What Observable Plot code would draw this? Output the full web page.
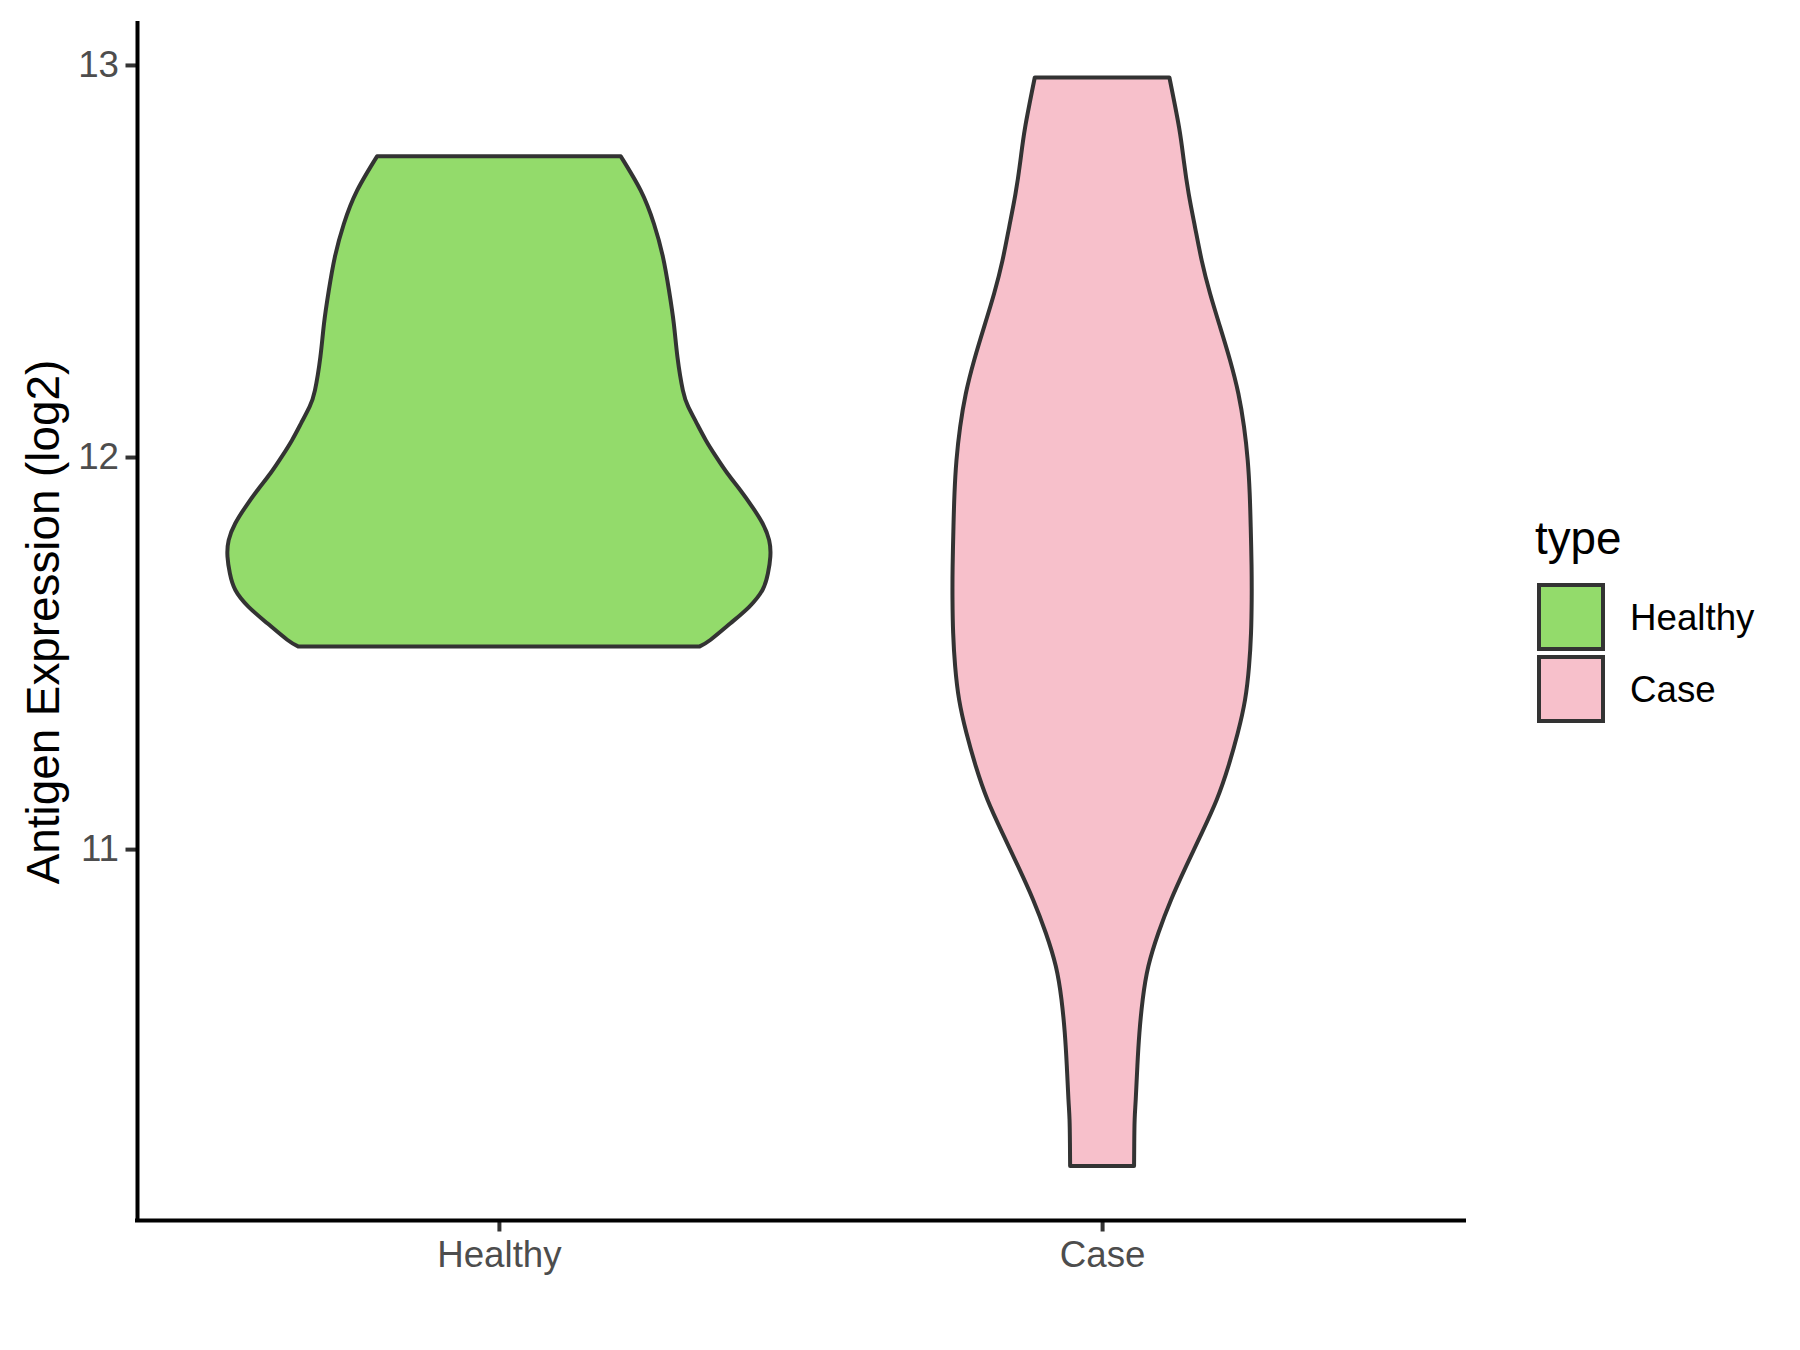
<!DOCTYPE html>
<html><head><meta charset="utf-8">
<script src="https://cdn.jsdelivr.net/npm/d3@7"></script>
<script src="https://cdn.jsdelivr.net/npm/@observablehq/plot@0.6"></script>
<style>
html,body{margin:0;padding:0;background:#fff;}
#wrap{position:relative;width:1800px;height:1350px;font-family:"Liberation Sans",Arial,sans-serif;background:#fff;}
#wrap svg{position:absolute;left:0;top:0;}
.lg{position:absolute;line-height:1;white-space:nowrap;color:#000;}
.key{position:absolute;box-sizing:border-box;border:4px solid #333333;width:68px;height:68px;}
</style></head><body>
<div id="wrap"></div>
<script>
const categories = ["Healthy", "Case"];
const fillColors = ["#93DB6B", "#F7C0CB"];
const yTicks = [11, 12, 13];
const yTitle = "Antigen Expression (log2)";
const legendTitle = "type";

// violin outlines: level (log2) and half-width (in category units)
const healthyLevels = [11.517, 11.534, 11.576, 11.618, 11.661, 11.703, 11.746, 11.788, 11.831, 11.873, 11.916, 11.958, 12.001, 12.043, 12.086, 12.128, 12.170, 12.255, 12.340, 12.425, 12.510, 12.595, 12.680, 12.767];
const healthyHalfWidth = [0.333, 0.351, 0.384, 0.415, 0.437, 0.446, 0.450, 0.448, 0.437, 0.420, 0.400, 0.379, 0.360, 0.343, 0.328, 0.314, 0.305, 0.296, 0.290, 0.282, 0.272, 0.257, 0.235, 0.202];

const caseLevels = [10.192, 10.25, 10.311, 10.362, 10.447, 10.532, 10.617, 10.701, 10.786, 10.871, 10.956, 11.041, 11.126, 11.211, 11.296, 11.381, 11.466, 11.551, 11.636, 11.721, 11.822, 11.907, 11.992, 12.077, 12.162, 12.247, 12.332, 12.417, 12.501, 12.586, 12.671, 12.756, 12.841, 12.968];
const caseHalfWidth = [0.053, 0.0533, 0.0540, 0.0558, 0.0585, 0.0619, 0.0674, 0.0767, 0.0933, 0.1144, 0.1392, 0.1652, 0.190, 0.2093, 0.2249, 0.237, 0.2436, 0.2469, 0.248, 0.2478, 0.2464, 0.2447, 0.2414, 0.2353, 0.2259, 0.2121, 0.1956, 0.179, 0.1652, 0.1541, 0.1436, 0.1354, 0.1276, 0.1116];

const rows = [];
healthyLevels.forEach((v, i) => rows.push({type: categories[0], pos: 1, v, hw: healthyHalfWidth[i]}));
caseLevels.forEach((v, i) => rows.push({type: categories[1], pos: 2, v, hw: caseHalfWidth[i]}));

const font = '"Liberation Sans", Arial, sans-serif';

const chart = Plot.plot({
  width: 1800,
  height: 1350,
  marginLeft: 137,
  marginRight: 336,
  marginTop: 23,
  marginBottom: 130,
  x: {domain: [0.4, 2.6]},
  y: {domain: [10.054, 13.107]},
  color: {domain: categories, range: fillColors},
  style: {fontFamily: font, background: "transparent", overflow: "visible"},
  marks: [
    Plot.areaX(rows, {
      y: "v",
      x1: d => d.pos - d.hw,
      x2: d => d.pos + d.hw,
      z: "type",
      fill: "type",
      stroke: "#333333",
      strokeWidth: 4,
      strokeLinejoin: "round",
      curve: "natural"
    }),
    Plot.axisY({
      ticks: yTicks, tickFormat: d => String(d), tickSize: 11.5, tickPadding: 7,
      fontSize: 36.7, stroke: "#333333", fill: "#4D4D4D", strokeWidth: 4, label: null
    }),
    Plot.axisX({
      ticks: [1, 2], tickFormat: d => categories[d - 1], tickSize: 11.5, tickPadding: 9,
      fontSize: 36.7, stroke: "#333333", fill: "#4D4D4D", strokeWidth: 4, label: null
    }),
    Plot.ruleX([0.4], {stroke: "#000", strokeWidth: 4, strokeLinecap: "square"}),
    Plot.ruleY([10.054], {stroke: "#000", strokeWidth: 4, strokeLinecap: "square"}),
    Plot.text([yTitle], {frameAnchor: "left", textAnchor: "middle", lineAnchor: "middle", rotate: -90, dx: -93, fontSize: 45.8, fill: "#000"})
  ]
});

const wrap = document.getElementById("wrap");
wrap.appendChild(chart);

function addDiv(cls, text, left, top, extra) {
  const d = document.createElement("div");
  d.className = cls;
  if (text != null) d.textContent = text;
  d.style.left = left + "px";
  d.style.top = top + "px";
  Object.assign(d.style, extra || {});
  wrap.appendChild(d);
}
addDiv("lg", legendTitle, 1535, 516, {fontSize: "45.8px"});
categories.forEach((c, i) => {
  addDiv("key", null, 1537, 583 + i * 72, {background: fillColors[i]});
  addDiv("lg", c, 1630, 600 + i * 72, {fontSize: "36.7px"});
});
</script>
</body></html>
